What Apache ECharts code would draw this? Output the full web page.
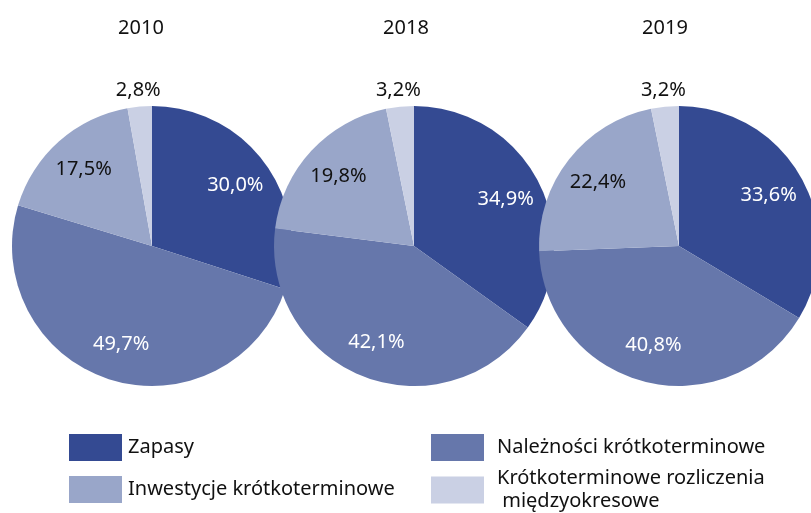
<!doctype html>
<html>
<head>
    <meta charset="utf-8">
    <title>Struktura aktywów obrotowych</title>
    <script src="https://cdn.jsdelivr.net/npm/echarts@6/dist/echarts.min.js"></script>
</head>
<style>
    html, body {
        margin: 0;
        padding: 0;
        background: #fff;
    }
    #chart {
        width: 811px;
        height: 513px;
    }
</style>
<body>
<div id="chart"></div>
<script>
  // data
  var years = ['2010', '2018', '2019'];
  var categories = [
    'Zapasy',
    'Należności krótkoterminowe',
    'Inwestycje krótkoterminowe',
    'Krótkoterminowe rozliczenia\n międzyokresowe'
  ];
  var shares2010 = [30.0, 49.7, 17.5, 2.8];
  var shares2018 = [34.9, 42.1, 19.8, 3.2];
  var shares2019 = [33.6, 40.8, 22.4, 3.2];

  var colors = ['#344a92', '#6677ab', '#99a6c9', '#cad0e4'];
  var labelColors = ['#ffffff', '#ffffff', '#111111', '#111111'];
  var allShares = [shares2010, shares2018, shares2019];
  var centersX = [152, 414, 679];
  var titleX = [136, 401, 660];
  var R = 140;
  var font = 'Noto Sans';

  function fmt(p) {
    return p.value.toFixed(1).replace('.', ',') + '%';
  }

  function items(values, styleFor, labelFor) {
    return values.map(function (v, i) {
      return {
        name: categories[i],
        value: v,
        itemStyle: styleFor(i),
        label: labelFor(i)
      };
    });
  }

  var series = [];
  allShares.forEach(function (values, k) {
    var center = [centersX[k], 246];
    // the visible pie
    series.push({
      type: 'pie',
      center: center,
      radius: [0, R],
      startAngle: 90,
      clockwise: true,
      silent: true,
      label: { show: false },
      labelLine: { show: false },
      data: items(values,
        function (i) { return { color: colors[i], borderWidth: 0 }; },
        function () { return { show: false }; })
    });
    // invisible ring carrying the inner labels
    series.push({
      type: 'pie',
      center: center,
      radius: [60, R],
      startAngle: 90,
      clockwise: true,
      silent: true,
      z: 5,
      avoidLabelOverlap: false,
      labelLine: { show: false },
      label: {
        position: 'inside',
        formatter: fmt,
        fontFamily: font,
        fontSize: 20
      },
      data: items(values,
        function () { return { color: 'rgba(0,0,0,0)', borderWidth: 0 }; },
        function (i) { return { show: i < 3, color: labelColors[i] }; })
    });
    // invisible ring carrying the small outer slice label
    series.push({
      type: 'pie',
      center: center,
      radius: [R, 166],
      startAngle: 90,
      clockwise: true,
      silent: true,
      z: 5,
      avoidLabelOverlap: false,
      labelLine: { show: false },
      label: {
        position: 'inside',
        formatter: fmt,
        fontFamily: font,
        fontSize: 20
      },
      data: items(values,
        function () { return { color: 'rgba(0,0,0,0)', borderWidth: 0 }; },
        function (i) { return { show: i === 3, color: labelColors[i] }; })
    });
  });

  var titles = years.map(function (y, k) {
    return {
      text: y,
      left: titleX[k],
      top: 13,
      textAlign: 'center',
      textStyle: { fontFamily: font, fontSize: 20, fontWeight: 'normal', color: '#111' }
    };
  });

  var legendText = { fontFamily: font, fontSize: 20, color: '#111', lineHeight: 23 };

  var myChart = echarts.init(document.getElementById('chart'));
  myChart.setOption({
    animation: false,
    title: titles,
    legend: [
      {
        orient: 'vertical',
        left: 69,
        top: 434,
        height: 120,
        padding: 0,
        itemWidth: 53,
        itemHeight: 27,
        itemGap: 15,
        icon: 'rect',
        selectedMode: false,
        textStyle: Object.assign({ padding: [0, 0, 0, 1] }, legendText),
        data: [categories[0], categories[2]]
      },
      {
        orient: 'vertical',
        left: 431,
        top: 434,
        height: 120,
        padding: 0,
        itemWidth: 53,
        itemHeight: 27,
        itemGap: 6,
        icon: 'rect',
        selectedMode: false,
        textStyle: Object.assign({ padding: [0, 0, 0, 8] }, legendText),
        data: [categories[1], categories[3]]
      }
    ],
    series: series
  });
</script>
</body>
</html>
